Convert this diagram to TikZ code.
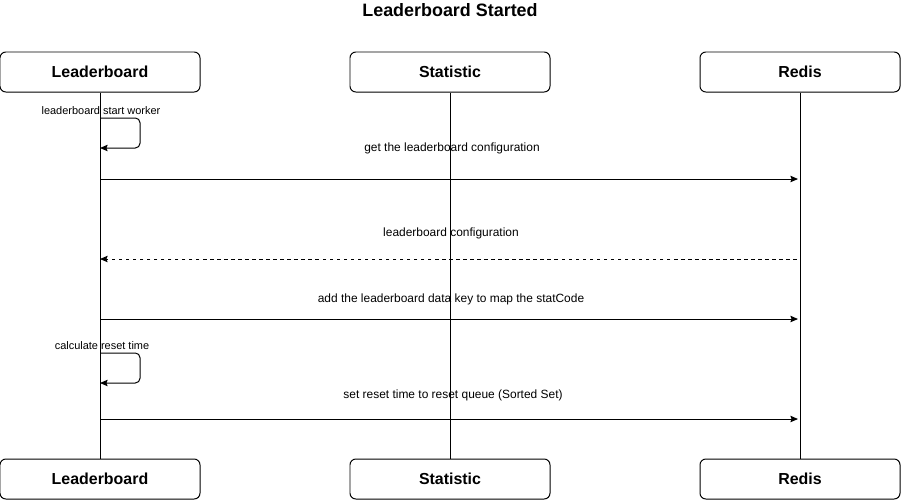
\documentclass[tikz,border=0pt]{standalone}
\usepackage{fontspec}
\setmainfont{Liberation Sans}
\usetikzlibrary{arrows.meta}

\tikzset{
  actor/.style={draw, rounded corners=5pt, line width=0.85pt, minimum width=6cm,
    minimum height=1.2cm, inner sep=0pt, font=\fontsize{13.6}{16}\selectfont\bfseries},
  msg/.style={->, line width=0.85pt},
  reply/.style={->, line width=0.85pt, dash pattern=on 3pt off 3pt},
  loopmsg/.style={->, line width=0.85pt, rounded corners=4pt},
  small/.style={font=\fontsize{9.35}{11}\selectfont},
}

\begin{document}
\begin{tikzpicture}[x=0.03cm, y=-0.03cm, >={Stealth[length=6.5pt, width=5.5pt, inset=1pt]},
    every node/.style={font=\fontsize{10.2}{12}\selectfont}]
  \useasboundingbox (0,0) rectangle (901,500);

  % title
  \node[font=\fontsize{15.3}{18}\selectfont\bfseries] (title) at (450,10) {Leaderboard Started};

  % participants
  \node[actor] (lb) at (100,72) {Leaderboard};
  \node[actor] (st) at (450,72) {Statistic};
  \node[actor] (rd) at (800,72) {Redis};
  \node[actor] (lbB) at (100,479) {Leaderboard};
  \node[actor] (stB) at (450,479) {Statistic};
  \node[actor] (rdB) at (800,479) {Redis};

  % lifelines
  \draw[line width=0.85pt] (lb) -- (lbB);
  \draw[line width=0.85pt] (st) -- (stB);
  \draw[line width=0.85pt] (rd) -- (rdB);

  % points on the lifelines
  \coordinate (w1) at (100,118);
  \coordinate (w2) at (100,148);
  \coordinate (a1) at (100,179);
  \coordinate (b1) at (798,179);
  \coordinate (a2) at (100,259);
  \coordinate (b2) at (797,259);
  \coordinate (a3) at (100,319);
  \coordinate (b3) at (798,319);
  \coordinate (c1) at (100,353);
  \coordinate (c2) at (100,383);
  \coordinate (a4) at (100,419);
  \coordinate (b4) at (798,419);

  % messages
  \draw[loopmsg] (w1) -- ++(40,0) -- ++(0,30) -- (w2);
  \node[small] (w1l) at (101,111) {leaderboard start worker};

  \draw[msg] (a1) -- (b1);
  \node (m1) at (452,148) {get the leaderboard configuration};

  \draw[reply] (b2) -- (a2);
  \node (m2) at (451,233) {leaderboard configuration};

  \draw[msg] (a3) -- (b3);
  \node (m3) at (451,299) {add the leaderboard data key to map the statCode};

  \draw[loopmsg] (c1) -- ++(40,0) -- ++(0,30) -- (c2);
  \node[small] (c1l) at (102,346) {calculate reset time};

  \draw[msg] (a4) -- (b4);
  \node (m4) at (453,395) {set reset time to reset queue (Sorted Set)};
\end{tikzpicture}
\end{document}
